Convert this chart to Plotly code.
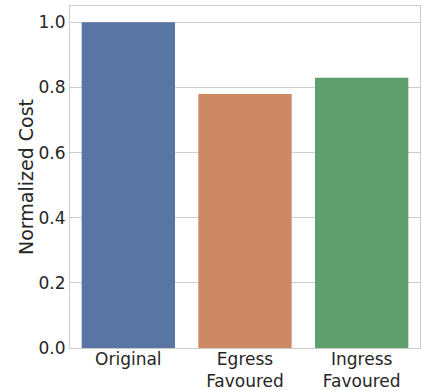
import plotly.graph_objects as go

categories = ["Original", "Egress<br>Favoured", "Ingress<br>Favoured"]
values = [1.0, 0.78, 0.83]
colors = ["#5975a4", "#cc8963", "#5f9e6e"]
yticks = [0.0, 0.2, 0.4, 0.6, 0.8, 1.0]
yticklabels = ["0.0", "0.2", "0.4", "0.6", "0.8", "1.0"]
ytitle = "Normalized Cost"

fig = go.Figure(
    go.Bar(
        x=categories,
        y=values,
        marker=dict(color=colors, line=dict(width=0)),
        width=0.8,
    )
)

fig.update_layout(
    width=422,
    height=390,
    margin=dict(l=70, r=2, t=6, b=42, autoexpand=False),
    paper_bgcolor="white",
    plot_bgcolor="white",
    font=dict(family="DejaVu Sans", size=17, color="#262626"),
    showlegend=False,
)

fig.update_xaxes(
    range=[-0.5, 2.5],
    showline=True,
    mirror=True,
    linecolor="#cccccc",
    linewidth=1.25,
    showgrid=False,
    ticks="",
    tickfont=dict(size=17),
    ticklabelstandoff=-5,
    automargin=False,
)

fig.update_yaxes(
    range=[0, 1.05],
    tickvals=yticks,
    ticktext=yticklabels,
    showline=True,
    mirror=True,
    linecolor="#cccccc",
    linewidth=1.25,
    showgrid=True,
    gridcolor="#cccccc",
    gridwidth=1,
    zeroline=False,
    ticks="",
    tickfont=dict(size=17),
    automargin=False,
)

fig.add_annotation(
    text=ytitle,
    textangle=-90,
    xref="paper",
    yref="paper",
    x=0,
    y=0.5,
    xanchor="center",
    yanchor="middle",
    xshift=-44,
    showarrow=False,
    font=dict(size=19, color="#262626"),
)

fig.write_html(
    "out.html",
    config={"displayModeBar": False},
    post_script="document.body.style.margin='0';document.body.style.overflow='hidden';",
)
